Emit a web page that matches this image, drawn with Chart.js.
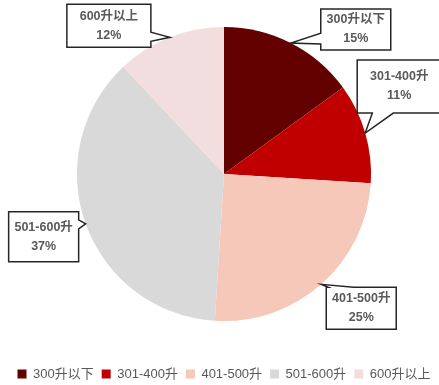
<!DOCTYPE html>
<html>
<head>
<meta charset="utf-8">
<script src="https://cdn.jsdelivr.net/npm/chart.js@4/dist/chart.umd.min.js"></script>
<style>
  html, body { margin: 0; padding: 0; background: #ffffff; }
  #wrap { width: 439px; height: 385px; }
</style>
</head>
<body>
<div id="wrap"><canvas id="c" width="439" height="385"></canvas></div>
<script>
// Capacity bands and their share (%)
const categories = ['300升以下', '301-400升', '401-500升', '501-600升', '600升以上'];
const shares = [15, 11, 25, 37, 12];
const sliceColors = ['#630000', '#C00000', '#F6C8BA', '#D9D9D9', '#F2DEDE'];

// Callout boxes: offset of the box centre from the slice edge point, box size,
// the box side the pointer leaves from, and the span of the pointer base on that side.
const callouts = [
  { dx: 65,  dy: -13.5, w: 70, h: 41, side: 'left',   base: [0.59, 0.85] },
  { dx: 34,  dy: -46.5, w: 84, h: 53, side: 'bottom', base: [0.18, 0.43] },
  { dx: 40,  dy: 24,    w: 70, h: 42, side: 'top',    base: [0.03, 0.39] },
  { dx: -42, dy: 13,    w: 70, h: 50, side: 'right',  base: [0.16, 0.34] },
  { dx: -61, dy: -11.5, w: 84, h: 43, side: 'right',  base: [0.65, 0.86] }
];

const FONT = '"Liberation Sans", "Noto Sans CJK SC", sans-serif';

const calloutPlugin = {
  id: 'callouts',
  afterDatasetsDraw(chart) {
    const ctx = chart.ctx;
    const meta = chart.getDatasetMeta(0);
    const data = chart.data.datasets[0].data;
    meta.data.forEach((arc, i) => {
      const p = arc.getProps(['x', 'y', 'startAngle', 'endAngle', 'outerRadius'], true);
      const mid = (p.startAngle + p.endAngle) / 2;
      const tx = p.x + Math.cos(mid) * p.outerRadius;
      const ty = p.y + Math.sin(mid) * p.outerRadius;
      const c = callouts[i];
      const cx = tx + c.dx, cy = ty + c.dy;
      const L = cx - c.w / 2, R = cx + c.w / 2, T = cy - c.h / 2, B = cy + c.h / 2;

      // outline: rectangle clockwise with the pointer inserted on one side
      const pts = [];
      const b0 = c.base[0], b1 = c.base[1];
      pts.push([L, T]);
      if (c.side === 'top') { pts.push([L + c.w * b0, T], [tx, ty], [L + c.w * b1, T]); }
      pts.push([R, T]);
      if (c.side === 'right') { pts.push([R, T + c.h * b0], [tx, ty], [R, T + c.h * b1]); }
      pts.push([R, B]);
      if (c.side === 'bottom') { pts.push([L + c.w * b1, B], [tx, ty], [L + c.w * b0, B]); }
      pts.push([L, B]);
      if (c.side === 'left') { pts.push([L, T + c.h * b1], [tx, ty], [L, T + c.h * b0]); }

      ctx.save();
      ctx.beginPath();
      ctx.moveTo(pts[0][0], pts[0][1]);
      for (let k = 1; k < pts.length; k++) ctx.lineTo(pts[k][0], pts[k][1]);
      ctx.closePath();
      ctx.fillStyle = '#ffffff';
      ctx.fill();
      ctx.lineWidth = 1.5;
      ctx.strokeStyle = '#262626';
      ctx.lineJoin = 'miter';
      ctx.stroke();

      ctx.fillStyle = '#595959';
      ctx.font = 'bold 12.5px ' + FONT;
      ctx.textAlign = 'center';
      ctx.textBaseline = 'middle';
      ctx.fillText(chart.data.labels[i], cx, cy - 9.5);
      ctx.fillText(data[i] + '%', cx, cy + 9.5);
      ctx.restore();
    });
  }
};

new Chart(document.getElementById('c'), {
  type: 'pie',
  data: {
    labels: categories,
    datasets: [{
      data: shares,
      backgroundColor: sliceColors,
      borderWidth: 0
    }]
  },
  options: {
    responsive: false,
    animation: false,
    layout: { padding: { top: 27, bottom: -5.5, left: 9, right: 0 } },
    plugins: {
      tooltip: { enabled: false },
      legend: {
        position: 'bottom',
        // empty title used as spacing between the pie and the legend row
        title: { display: true, text: '', font: { size: 12 }, padding: { top: 0, bottom: 24 } },
        labels: {
          boxWidth: 9,
          boxHeight: 9,
          padding: 8,
          color: '#595959',
          font: { family: FONT, size: 13 }
        }
      }
    }
  },
  plugins: [calloutPlugin]
});
</script>
</body>
</html>
